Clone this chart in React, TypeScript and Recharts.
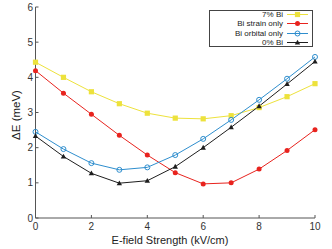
import React from "react";
import { LineChart, Line, XAxis, YAxis } from "recharts";

const fields = [0, 1, 2, 3, 4, 5, 6, 7, 8, 9, 10];
const bi7 = [4.43, 4.0, 3.59, 3.25, 2.98, 2.84, 2.82, 2.91, 3.14, 3.45, 3.82];
const strainOnly = [4.19, 3.55, 2.95, 2.35, 1.79, 1.29, 0.97, 1.0, 1.39, 1.92, 2.51];
const orbitalOnly = [2.45, 1.96, 1.56, 1.37, 1.44, 1.79, 2.25, 2.79, 3.36, 3.96, 4.58];
const bi0 = [2.33, 1.75, 1.27, 0.99, 1.06, 1.46, 2.0, 2.58, 3.18, 3.81, 4.45];
const xTicks = [0, 2, 4, 6, 8, 10];
const yTicks = [0, 1, 2, 3, 4, 5, 6];

const C_YEL = "#EDE23C";
const C_RED = "#E8231E";
const C_BLUE = "#2E8ECE";
const C_BLK = "#1E1E1E";
const AXIS = "#555";
const FONT = "'Liberation Sans', Arial, sans-serif";

const data = fields.map((f, i) => ({
  f,
  bi7: bi7[i],
  strain: strainOnly[i],
  orbital: orbitalOnly[i],
  bi0: bi0[i],
}));

type Shape = "square" | "dot" | "ring" | "tri";

const Marker = ({ shape, color, cx, cy }: { shape: Shape; color: string; cx: number; cy: number }) => {
  if (shape === "square") return <rect x={cx - 2.6} y={cy - 2.6} width={5.2} height={5.2} fill={color} />;
  if (shape === "dot") return <circle cx={cx} cy={cy} r={2.5} fill={color} />;
  if (shape === "ring") return <circle cx={cx} cy={cy} r={2.5} fill="none" stroke={color} strokeWidth={1} />;
  return <polygon points={`${cx},${cy - 2.8} ${cx + 2.7},${cy + 2} ${cx - 2.7},${cy + 2}`} fill={color} />;
};

const makeDot = (shape: Shape, color: string) => (p: any) => (
  <Marker key={`${shape}-${p.index}`} shape={shape} color={color} cx={p.cx} cy={p.cy} />
);

const BottomTick = (p: any) => (
  <g>
    <line x1={p.x} x2={p.x} y1={p.y} y2={p.y - 3} stroke={AXIS} strokeWidth={1} />
    <text x={p.x} y={p.y + 11.5} textAnchor="middle" fontSize={10} fill="#333" fontFamily={FONT}>
      {p.payload.value}
    </text>
  </g>
);
const TopTick = (p: any) => (
  <line x1={p.x} x2={p.x} y1={p.y} y2={p.y + 3} stroke={AXIS} strokeWidth={1} />
);
const LeftTick = (p: any) => (
  <g>
    <line x1={p.x} x2={p.x + 3} y1={p.y} y2={p.y} stroke={AXIS} strokeWidth={1} />
    <text x={p.x - 2.5} y={p.y + 3.6} textAnchor="end" fontSize={10} fill="#333" fontFamily={FONT}>
      {p.payload.value}
    </text>
  </g>
);
const RightTick = (p: any) => (
  <line x1={p.x} x2={p.x - 3} y1={p.y} y2={p.y} stroke={AXIS} strokeWidth={1} />
);

const legendItems: { label: string; color: string; shape: Shape }[] = [
  { label: "7% Bi", color: C_YEL, shape: "square" },
  { label: "Bi strain only", color: C_RED, shape: "dot" },
  { label: "Bi orbital only", color: C_BLUE, shape: "ring" },
  { label: "0% Bi", color: C_BLK, shape: "tri" },
];

const LegendBox = () => (
  <div
    style={{
      position: "absolute",
      left: 209,
      top: 10,
      width: 104,
      height: 37,
      border: "1px solid #444",
      background: "#fff",
      boxSizing: "border-box",
    }}
  >
    {legendItems.map((it, i) => (
      <div
        key={it.label}
        style={{
          position: "absolute",
          right: 0,
          top: -1.5 + i * 9.55,
          height: 9,
          display: "flex",
          alignItems: "center",
          fontFamily: FONT,
          fontSize: 8,
          color: "#222",
          whiteSpace: "nowrap",
        }}
      >
        <span>{it.label}</span>
        <svg width={25} height={9} style={{ marginLeft: 4 }}>
          <line x1={0} x2={21} y1={4.5} y2={4.5} stroke={it.color} strokeWidth={1} />
          <Marker shape={it.shape} color={it.color} cx={10.5} cy={4.5} />
        </svg>
      </div>
    ))}
  </div>
);

export default function App() {
  return (
    <div style={{ position: "absolute", left: 0, top: 0, width: 332, height: 249, background: "#fff" }}>
      <LineChart width={332} height={249} data={data} margin={{ top: 7, right: 17, bottom: 0, left: 0 }}>
        <XAxis
          xAxisId="b"
          dataKey="f"
          type="number"
          domain={[0, 10]}
          ticks={xTicks}
          height={31}
          tickSize={0}
          tickMargin={0}
          tickLine={false}
          stroke={AXIS}
          tick={BottomTick}
          interval={0}
        />
        <XAxis
          xAxisId="t"
          orientation="top"
          dataKey="f"
          type="number"
          domain={[0, 10]}
          ticks={xTicks}
          height={0}
          tickSize={0}
          tickMargin={0}
          tickLine={false}
          stroke={AXIS}
          tick={TopTick}
          interval={0}
        />
        <YAxis
          yAxisId="l"
          type="number"
          domain={[0, 6]}
          ticks={yTicks}
          width={35.5}
          tickSize={0}
          tickMargin={0}
          tickLine={false}
          stroke={AXIS}
          tick={LeftTick}
          interval={0}
        />
        <YAxis
          yAxisId="r"
          orientation="right"
          type="number"
          domain={[0, 6]}
          ticks={yTicks}
          width={0}
          tickSize={0}
          tickMargin={0}
          tickLine={false}
          stroke={AXIS}
          tick={RightTick}
          interval={0}
        />
        <Line xAxisId="b" yAxisId="l" dataKey="bi7" stroke={C_YEL} strokeWidth={1} dot={makeDot("square", C_YEL)} isAnimationActive={false} />
        <Line xAxisId="b" yAxisId="l" dataKey="strain" stroke={C_RED} strokeWidth={1} dot={makeDot("dot", C_RED)} isAnimationActive={false} />
        <Line xAxisId="b" yAxisId="l" dataKey="orbital" stroke={C_BLUE} strokeWidth={1} dot={makeDot("ring", C_BLUE)} isAnimationActive={false} />
        <Line xAxisId="b" yAxisId="l" dataKey="bi0" stroke={C_BLK} strokeWidth={1} dot={makeDot("tri", C_BLK)} isAnimationActive={false} />
        <text x={170} y={244} textAnchor="middle" fontSize={11} fill="#222" fontFamily={FONT}>
          E-field Strength (kV/cm)
        </text>
        <text
          x={19.5}
          y={115}
          textAnchor="middle"
          fontSize={11.5}
          fill="#222"
          fontFamily={FONT}
          transform="rotate(-90 19.5 115)"
        >
          ΔE (meV)
        </text>
      </LineChart>
      <LegendBox />
    </div>
  );
}
